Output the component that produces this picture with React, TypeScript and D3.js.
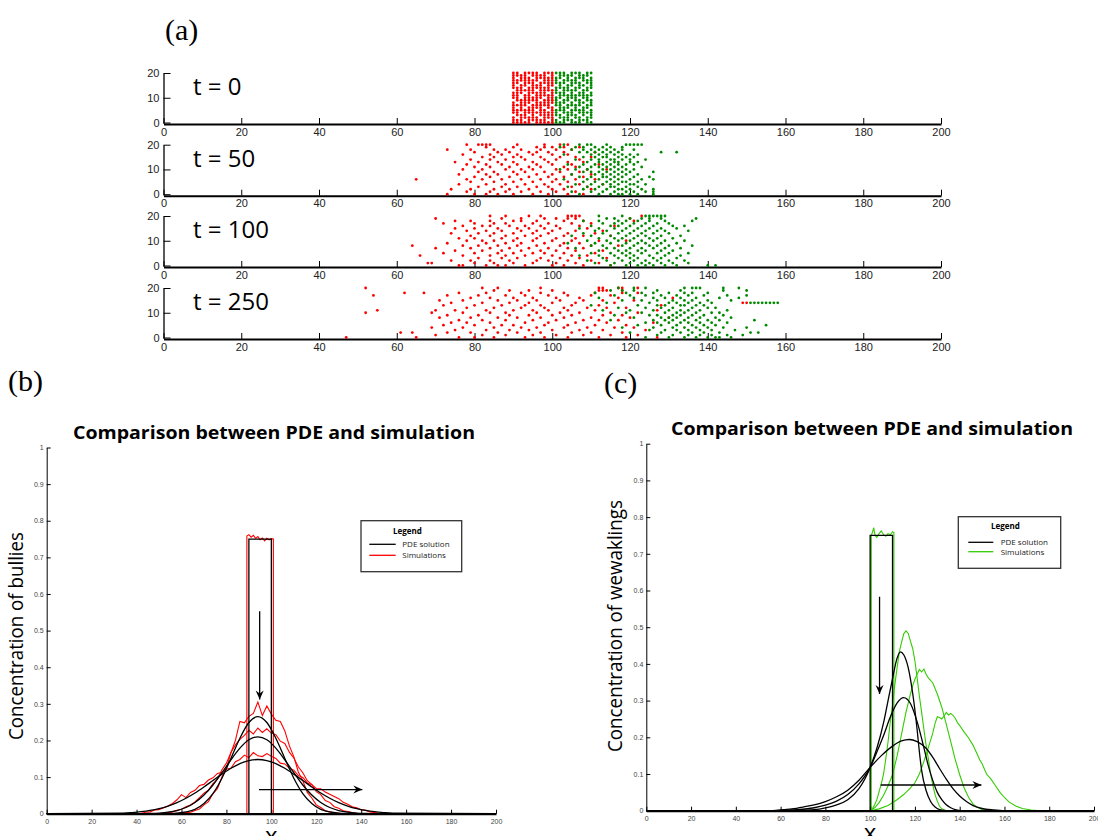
import { useEffect, useRef } from 'react'
import * as d3 from 'd3'

// ---------- shared ticks / labels ----------
const xTicks = [0, 20, 40, 60, 80, 100, 120, 140, 160, 180, 200]
const snapYTicks = [0, 10, 20]
const concTicks = [0, 0.1, 0.2, 0.3, 0.4, 0.5, 0.6, 0.7, 0.8, 0.9, 1]
const snapLabels = ['t = 0', 't = 50', 't = 100', 't = 250']
const panelTitle = 'Comparison between PDE and simulation'
const panelLetters = ['(a)', '(b)', '(c)']
const legendLabels = ['PDE solution', 'Simulations']

// ---------- (a) t = 0 lattice, one string per column, char index = y ----------
const t0RedStart = 90
const t0RedCols = [
  '111011111011101111111',
  '110111010111111011011',
  '111101111100111101110',
  '101111011111010111111',
  '111011101111111011101',
  '011111110110111111011',
  '111010111111101101111',
  '110111111011111110110',
  '111111011101111011111',
  '101110111111011111101',
  '111111101111110111111',
]
const t0GreenStart = 101
const t0GreenCols = [
  '110111011110111011101',
  '101101111011101110111',
  '111011101101111011011',
  '011110110111011101110',
  '110111011011110111011',
  '101101110111011011101',
  '111011011101101110111',
  '010111101011110101110',
  '111010110111011011011',
  '101111011101101111101',
]

// ---------- (a) later snapshots: rows indexed by y, values are x ----------
const t50RedRows = [
  [73, 80, 83, 86, 90, 95, 99, 104, 108],
  [78, 84, 88, 92, 97, 101, 106],
  [74, 79, 85, 89, 94, 100, 103, 110],
  [81, 87, 91, 96, 99, 105, 109],
  [76, 83, 88, 93, 98, 102, 107, 113],
  [79, 85, 90, 95, 100, 104],
  [65, 78, 82, 87, 92, 97, 101, 106, 111],
  [80, 84, 89, 94, 99, 103, 108],
  [76, 83, 86, 91, 96, 100, 105, 110],
  [81, 85, 90, 93, 98, 102, 107],
  [77, 82, 88, 92, 95, 101, 104, 109, 114],
  [80, 84, 89, 94, 97, 103, 106],
  [78, 83, 87, 91, 96, 100, 105, 112],
  [75, 81, 86, 90, 95, 99, 104, 108],
  [79, 84, 88, 93, 98, 101, 107],
  [82, 85, 90, 92, 97, 102, 106, 110],
  [77, 84, 87, 91, 95, 100, 104],
  [80, 86, 89, 94, 96, 99, 103, 111],
  [73, 79, 85, 88, 92, 97, 101, 105],
  [83, 90, 96, 98, 100, 103, 107],
  [78, 81, 82, 83, 84, 91, 98, 102, 104],
]
const t50GreenRows = [
  [107, 112, 115, 117, 118, 120, 122, 126],
  [105, 110, 113, 116, 119, 121, 124, 126],
  [108, 111, 114, 117, 118, 120, 123, 126],
  [104, 109, 112, 115, 116, 119, 122],
  [106, 110, 113, 115, 117, 120, 121, 124],
  [108, 111, 114, 116, 118, 119, 122],
  [103, 109, 112, 115, 117, 120, 123, 126],
  [107, 110, 113, 114, 116, 118, 121, 125],
  [105, 111, 113, 115, 117, 119, 122],
  [108, 110, 112, 114, 116, 118, 120, 126],
  [102, 106, 109, 113, 115, 117, 119, 121],
  [107, 110, 112, 114, 116, 118, 123],
  [104, 108, 111, 113, 115, 117, 119, 121],
  [109, 112, 114, 116, 117, 120, 122],
  [106, 110, 112, 115, 116, 118, 120, 124],
  [108, 111, 113, 114, 117, 119, 121],
  [103, 110, 112, 114, 116, 118, 120, 122],
  [107, 109, 111, 113, 115, 117, 128, 132],
  [105, 108, 110, 112, 114, 116, 118, 121],
  [102, 106, 108, 111, 113, 115, 118],
  [103, 107, 109, 110, 114, 119, 120, 121, 122, 123],
]
const t100RedRows = [
  [76, 77, 83, 86, 88, 93, 100, 103, 108, 115],
  [68, 69, 80, 85, 90, 95, 101, 106, 112],
  [74, 79, 84, 89, 96, 99, 104, 110],
  [81, 87, 91, 97, 102, 107, 114],
  [66, 77, 84, 88, 93, 100, 105, 109],
  [72, 80, 86, 90, 95, 98, 103, 111],
  [75, 82, 87, 92, 97, 101, 106, 113],
  [70, 79, 84, 89, 94, 99, 104, 108],
  [64, 77, 81, 86, 91, 96, 102, 110, 117],
  [73, 83, 88, 92, 98, 103, 107],
  [78, 82, 85, 90, 95, 100, 105, 112, 119],
  [76, 80, 87, 91, 96, 101, 106],
  [79, 84, 88, 93, 97, 103, 108, 115],
  [74, 81, 85, 90, 95, 99, 104, 111],
  [78, 83, 87, 92, 96, 100, 106, 113],
  [75, 80, 86, 91, 94, 98, 102, 109],
  [77, 82, 84, 89, 93, 97, 101, 107, 116],
  [72, 80, 85, 88, 95, 99, 105, 110],
  [75, 79, 84, 90, 92, 96, 103, 108, 121],
  [70, 87, 92, 98, 101, 104, 106, 120],
  [84, 88, 94, 97, 104, 105, 106, 107, 123],
]
const t100GreenRows = [
  [115, 119, 122, 124, 126, 129, 132, 140, 142],
  [111, 116, 120, 123, 125, 128, 131, 135],
  [109, 114, 118, 121, 124, 127, 130, 134],
  [113, 117, 120, 122, 126, 128, 132],
  [107, 112, 116, 119, 121, 125, 129, 133],
  [110, 115, 118, 120, 123, 127, 130, 135],
  [112, 117, 119, 122, 124, 128, 131],
  [106, 114, 116, 120, 123, 126, 129, 133],
  [110, 113, 118, 121, 125, 127, 130, 136],
  [104, 111, 115, 119, 122, 124, 128, 132],
  [109, 114, 117, 120, 123, 126, 129, 134],
  [112, 116, 118, 121, 125, 127, 131],
  [105, 110, 115, 119, 122, 124, 128, 133],
  [108, 113, 117, 120, 123, 126, 130],
  [111, 114, 118, 121, 124, 127, 129, 135],
  [107, 112, 116, 119, 122, 125, 128, 132],
  [110, 115, 117, 120, 123, 126, 131, 134],
  [113, 116, 118, 121, 124, 127, 130],
  [108, 112, 117, 119, 122, 125, 129, 136],
  [114, 116, 120, 123, 125, 128, 137],
  [112, 118, 124, 125, 126, 127, 128, 129],
]
const t250RedRows = [
  [47, 65, 76, 80, 85, 93, 98, 104, 112, 119, 127],
  [70, 82, 88, 95, 101, 108, 115, 122],
  [61, 64, 73, 79, 86, 91, 97, 105, 110, 118],
  [75, 83, 89, 94, 100, 107, 113, 124],
  [69, 77, 85, 92, 96, 103, 109, 116, 121],
  [72, 80, 87, 90, 98, 104, 111, 119],
  [74, 78, 84, 93, 99, 106, 114, 126],
  [76, 82, 88, 95, 101, 108, 112, 117],
  [71, 79, 86, 91, 97, 103, 110, 120, 130],
  [73, 81, 89, 94, 100, 105, 113, 118],
  [52, 69, 77, 84, 88, 96, 102, 107, 115, 122],
  [55, 70, 75, 83, 90, 95, 99, 104, 111, 127],
  [78, 85, 92, 98, 103, 109, 114, 119],
  [72, 80, 87, 93, 97, 105, 112, 128],
  [74, 82, 89, 94, 100, 106, 116, 149, 150],
  [71, 77, 86, 91, 96, 102, 108, 113, 121],
  [79, 84, 90, 95, 101, 107, 117, 131],
  [54, 73, 81, 88, 93, 99, 104, 110, 115],
  [62, 67, 76, 83, 92, 97, 103, 111, 118, 122],
  [85, 89, 94, 100, 112, 113, 114, 118],
  [52, 82, 86, 97, 112, 113, 117, 118, 122],
]
const t250GreenRows = [
  [124, 130, 134, 137, 140, 142, 143, 146],
  [127, 131, 135, 138, 141, 145, 149],
  [120, 128, 133, 136, 139, 143, 151, 153],
  [125, 129, 132, 135, 138, 141, 147],
  [118, 126, 131, 134, 137, 140, 144, 150],
  [122, 128, 132, 136, 139, 142, 155],
  [124, 127, 130, 133, 135, 138, 141, 145],
  [115, 126, 129, 131, 134, 137, 140, 143, 152],
  [121, 128, 130, 132, 135, 138, 142, 146],
  [116, 125, 127, 131, 133, 136, 139, 144],
  [119, 123, 129, 132, 134, 137, 141, 143],
  [113, 120, 126, 130, 133, 135, 138, 145],
  [117, 124, 128, 131, 136, 140, 142],
  [110, 122, 127, 129, 133, 134, 137, 139],
  [114, 125, 130, 132, 135, 138, 141, 151, 152, 153, 154, 155, 156, 157, 158],
  [118, 123, 127, 131, 134, 136, 140, 146],
  [112, 121, 126, 129, 133, 137, 143, 148],
  [116, 120, 124, 128, 132, 135, 139, 145, 150],
  [111, 119, 123, 126, 130, 134, 136, 140],
  [115, 118, 121, 127, 133, 144, 150],
  [117, 121, 124, 134, 136, 137, 138, 144, 148],
]

// ---------- (b) bullies ----------
const bPdeX = [34, 38, 42, 46, 50, 54, 58, 62, 66, 70, 74, 78, 82, 86, 90, 94, 98, 102, 106, 110, 114, 118, 122, 126, 130, 134, 138, 142, 146, 150, 154]
const bPdeT50 = [0, 0, 0, 0, 0.0001, 0.0005, 0.0016, 0.0048, 0.012, 0.028, 0.055, 0.097, 0.151, 0.206, 0.249, 0.265, 0.249, 0.206, 0.151, 0.097, 0.055, 0.028, 0.012, 0.0048, 0.0016, 0.0005, 0.0001, 0, 0, 0, 0]
const bPdeT100 = [0, 0.0001, 0.0003, 0.0007, 0.0018, 0.0041, 0.0086, 0.0169, 0.0305, 0.0509, 0.0784, 0.112, 0.147, 0.179, 0.202, 0.21, 0.202, 0.179, 0.147, 0.112, 0.0784, 0.0509, 0.0305, 0.0169, 0.0086, 0.0041, 0.0018, 0.0007, 0.0003, 0.0001, 0]
const bPdeT250 = [0.0018, 0.0032, 0.0054, 0.0088, 0.0138, 0.0209, 0.0302, 0.0422, 0.0566, 0.0731, 0.0907, 0.108, 0.124, 0.137, 0.145, 0.148, 0.145, 0.137, 0.124, 0.108, 0.0907, 0.0731, 0.0566, 0.0422, 0.0302, 0.0209, 0.0138, 0.0088, 0.0054, 0.0032, 0.0018]
const bPdeInit: [number, number][] = [[0, 0], [90, 0], [90, 0.75], [100, 0.75], [100, 0], [200, 0]]

const bSimX = [40, 42, 44, 46, 48, 50, 52, 54, 56, 58, 60, 62, 64, 66, 68, 70, 72, 74, 76, 78, 80, 82, 84, 86, 88, 90, 92, 94, 96, 98, 100, 102, 104, 106, 108, 110, 112, 114, 116, 118, 120, 122, 124, 126, 128, 130, 132, 134, 136, 138, 140, 142, 144, 146, 148, 150]
const bSimT50 = [0, 0, 0, 0, 0, 0, 0, 0, 0, 0.001, 0.001, 0.003, 0.004, 0.009, 0.013, 0.024, 0.033, 0.055, 0.068, 0.1, 0.124, 0.166, 0.2, 0.252, 0.248, 0.266, 0.274, 0.305, 0.268, 0.294, 0.272, 0.255, 0.252, 0.226, 0.186, 0.156, 0.114, 0.09, 0.058, 0.043, 0.024, 0.017, 0.008, 0.005, 0.002, 0.001, 0, 0, 0, 0, 0, 0, 0, 0, 0, 0]
const bSimT100 = [0, 0, 0, 0, 0, 0, 0.001, 0.003, 0.005, 0.009, 0.012, 0.019, 0.024, 0.032, 0.044, 0.056, 0.064, 0.082, 0.094, 0.12, 0.138, 0.167, 0.188, 0.203, 0.214, 0.228, 0.218, 0.234, 0.222, 0.232, 0.22, 0.216, 0.198, 0.192, 0.168, 0.152, 0.128, 0.112, 0.09, 0.08, 0.06, 0.052, 0.036, 0.031, 0.019, 0.015, 0.008, 0.006, 0.003, 0.001, 0, 0, 0, 0, 0, 0]
const bSimT250 = [0, 0.001, 0.004, 0.005, 0.01, 0.011, 0.016, 0.021, 0.028, 0.038, 0.052, 0.044, 0.058, 0.064, 0.077, 0.08, 0.092, 0.098, 0.11, 0.113, 0.122, 0.124, 0.142, 0.148, 0.16, 0.153, 0.167, 0.158, 0.156, 0.164, 0.157, 0.151, 0.138, 0.136, 0.124, 0.119, 0.104, 0.099, 0.084, 0.079, 0.069, 0.068, 0.059, 0.053, 0.047, 0.041, 0.031, 0.026, 0.019, 0.016, 0.011, 0.009, 0.005, 0.003, 0.001, 0]
const bSimInit: [number, number][] = [[0, 0], [89.1, 0], [89.1, 0.758], [90, 0.762], [91, 0.755], [92, 0.76], [93, 0.752], [94, 0.757], [95, 0.748], [96, 0.753], [97, 0.745], [98, 0.752], [99, 0.748], [100, 0.751], [100.9, 0.75], [100.9, 0], [200, 0]]
const bArrows: [number, number][][] = [
  [[94.8, 0.553], [94.8, 0.312]],
  [[94.5, 0.066], [140.5, 0.066]],
]

// ---------- (c) weaklings ----------
const cPdeInit: [number, number][] = [[0, 0], [100, 0], [100, 0.75], [110, 0.75], [110, 0], [200, 0]]
const cPdeT50: [number, number][] = [[0, 0], [62, 0], [65, 0.0005], [70, 0.0015], [75, 0.003], [80, 0.008], [85, 0.016], [90, 0.03], [95, 0.06], [100, 0.118], [103, 0.17], [106, 0.24], [108, 0.3], [110, 0.36], [112, 0.415], [113.5, 0.433], [115, 0.425], [117, 0.39], [119, 0.32], [121, 0.22], [122, 0.16], [123, 0.11], [125, 0.055], [127, 0.025], [129, 0.01], [131, 0.003], [134, 0], [200, 0]]
const cPdeT100: [number, number][] = [[0, 0], [58, 0], [60, 0.0005], [65, 0.002], [70, 0.004], [75, 0.008], [80, 0.015], [85, 0.026], [90, 0.044], [95, 0.073], [100, 0.118], [103, 0.16], [106, 0.205], [109, 0.255], [112, 0.293], [115, 0.308], [118, 0.292], [121, 0.242], [124, 0.172], [126, 0.122], [128, 0.082], [130, 0.05], [132, 0.03], [134, 0.016], [136, 0.008], [138, 0.003], [141, 0], [200, 0]]
const cPdeT250: [number, number][] = [[0, 0], [55, 0], [60, 0.002], [65, 0.005], [70, 0.01], [75, 0.016], [80, 0.025], [85, 0.038], [90, 0.056], [95, 0.083], [100, 0.118], [105, 0.15], [110, 0.176], [114, 0.19], [117.5, 0.194], [121, 0.188], [125, 0.17], [128, 0.145], [131, 0.115], [134, 0.086], [137, 0.06], [140, 0.04], [143, 0.025], [146, 0.014], [150, 0.006], [155, 0.002], [160, 0], [200, 0]]
const cSimInit: [number, number][] = [[0, 0], [100.5, 0], [100.5, 0.75], [101, 0.758], [101.6, 0.771], [102.2, 0.75], [103, 0.745], [104, 0.755], [105, 0.762], [106, 0.752], [107, 0.748], [108, 0.755], [109, 0.752], [110, 0.76], [110.6, 0.758], [110.6, 0], [200, 0]]
const cSimT50: [number, number][] = [[0, 0], [100, 0], [101, 0.005], [102, 0.016], [103, 0.03], [104, 0.052], [105, 0.074], [106, 0.1], [107, 0.142], [108, 0.188], [109, 0.243], [110, 0.288], [111, 0.342], [112, 0.388], [113, 0.432], [114, 0.458], [115, 0.482], [116, 0.49], [117, 0.483], [118, 0.462], [119, 0.442], [120, 0.408], [121, 0.362], [122, 0.312], [123, 0.268], [124, 0.222], [125, 0.178], [126, 0.142], [127, 0.1], [128, 0.07], [129, 0.044], [130, 0.026], [131, 0.012], [132, 0.005], [134, 0], [200, 0]]
const cSimT100: [number, number][] = [[0, 0], [100, 0], [102, 0.008], [104, 0.022], [106, 0.042], [108, 0.068], [110, 0.098], [112, 0.148], [114, 0.208], [116, 0.268], [118, 0.318], [119, 0.34], [120, 0.358], [121, 0.372], [122, 0.385], [123, 0.378], [124, 0.386], [125, 0.372], [126, 0.362], [128, 0.348], [130, 0.318], [132, 0.282], [134, 0.236], [136, 0.188], [138, 0.14], [140, 0.098], [142, 0.062], [144, 0.036], [146, 0.018], [148, 0.009], [150, 0.003], [153, 0], [200, 0]]
const cSimT250: [number, number][] = [[0, 0], [100, 0], [104, 0.005], [108, 0.014], [112, 0.03], [115, 0.044], [118, 0.062], [120, 0.076], [122, 0.1], [124, 0.134], [126, 0.172], [128, 0.212], [129, 0.238], [130, 0.256], [131, 0.254], [132, 0.25], [133, 0.258], [134, 0.268], [135, 0.261], [136, 0.265], [137, 0.26], [138, 0.252], [139, 0.24], [140, 0.232], [142, 0.214], [144, 0.198], [146, 0.178], [148, 0.152], [149, 0.138], [150, 0.128], [152, 0.1], [154, 0.086], [156, 0.068], [158, 0.05], [160, 0.036], [162, 0.024], [165, 0.013], [168, 0.006], [172, 0.002], [176, 0], [200, 0]]
const cArrows: [number, number][][] = [
  [[104.2, 0.583], [104.2, 0.318]],
  [[104.7, 0.07], [149.7, 0.07]],
]

const RED = '#ff0000'
const DOT_GREEN = '#008a00'
const LINE_GREEN = '#33cc00'
const TICK_FONT = 'Liberation Sans, Arial, sans-serif'
const LABEL_FONT = 'Open Sans, sans-serif'

function latticePoints(cols: string[], x0: number): [number, number][] {
  const pts: [number, number][] = []
  cols.forEach((col, i) => {
    col.split('').forEach((c, y) => {
      if (c === '1') pts.push([x0 + i, y])
    })
  })
  return pts
}

function rowPoints(rows: number[][]): [number, number][] {
  return rows.flatMap((xs, y) => xs.map((x) => [x, y] as [number, number]))
}

// pad a sampled curve with the zero level over the whole domain
function zip(xs: number[], ys: number[]): [number, number][] {
  return [[0, 0], ...xs.map((x, i) => [x, ys[i]] as [number, number]), [200, 0]]
}

function styleAxis(g: any, size: number, color: string, domainWidth: number) {
  g.attr('font-family', TICK_FONT).attr('font-size', size)
  g.select('.domain').attr('stroke', '#000').attr('stroke-width', domainWidth)
  g.selectAll('.tick line').attr('stroke', '#000').attr('stroke-width', 1)
  g.selectAll('.tick text').attr('fill', color)
}

function drawArrow(g: any, x1: number, y1: number, x2: number, y2: number) {
  g.append('line')
    .attr('x1', x1).attr('y1', y1).attr('x2', x2).attr('y2', y2)
    .attr('stroke', '#000').attr('stroke-width', 1.3)
  const ang = Math.atan2(y2 - y1, x2 - x1)
  const len = 9
  const half = 4
  const notch = 3
  const ux = Math.cos(ang)
  const uy = Math.sin(ang)
  const px = -uy
  const py = ux
  const bx = x2 - ux * len
  const by = y2 - uy * len
  const pts = [
    [x2, y2],
    [bx + px * half, by + py * half],
    [x2 - ux * (len - notch), y2 - uy * (len - notch)],
    [bx - px * half, by - py * half],
  ]
  g.append('path').attr('d', 'M' + pts.map((p) => p.join(',')).join('L') + 'Z').attr('fill', '#000')
}

function Figure() {
  const ref = useRef<SVGSVGElement>(null)

  useEffect(() => {
    const node = ref.current
    if (!node) return
    const svg = d3.select(node)
    svg.selectAll('*').remove()
    svg.append('rect').attr('width', 1098).attr('height', 836).attr('fill', '#fff')

    // panel letters
    const letterPos = [[165, 40], [8, 391], [604, 393]]
    panelLetters.forEach((t, i) => {
      svg.append('text')
        .attr('x', letterPos[i][0]).attr('y', letterPos[i][1])
        .attr('font-family', 'Liberation Serif, DejaVu Serif, serif')
        .attr('font-size', 30).attr('fill', '#000')
        .text(t)
    })

    // ---------- (a) snapshots ----------
    const xA = d3.scaleLinear().domain([0, 200]).range([163.5, 941])
    const bottoms = [124, 195.7, 267, 339]
    const snaps = [
      { red: latticePoints(t0RedCols, t0RedStart), green: latticePoints(t0GreenCols, t0GreenStart) },
      { red: rowPoints(t50RedRows), green: rowPoints(t50GreenRows) },
      { red: rowPoints(t100RedRows), green: rowPoints(t100GreenRows) },
      { red: rowPoints(t250RedRows), green: rowPoints(t250GreenRows) },
    ]
    snaps.forEach((s, i) => {
      const bottom = bottoms[i]
      const y = d3.scaleLinear().domain([0, 20]).range([bottom - 1.5, bottom - 51])
      const g = svg.append('g')
      g.append('g')
        .attr('transform', `translate(0,${bottom})`)
        .call(d3.axisBottom(xA).tickValues(xTicks).tickSizeInner(-6).tickSizeOuter(0).tickPadding(4))
        .call((a: any) => styleAxis(a, 11, '#222', 2))
      g.append('g')
        .attr('transform', `translate(${xA(0)},0)`)
        .call(d3.axisLeft(y).tickValues(snapYTicks).tickSizeInner(-7).tickSizeOuter(0).tickPadding(4))
        .call((a: any) => styleAxis(a, 11, '#222', 1.3))

      g.append('text')
        .attr('x', 193).attr('y', bottom - 29)
        .attr('font-family', LABEL_FONT).attr('font-size', 24).attr('fill', '#000')
        .text(snapLabels[i])

      g.selectAll('circle.red')
        .data(s.red)
        .enter()
        .append('circle')
        .attr('r', 1.4)
        .attr('cx', (d) => xA(d[0]))
        .attr('cy', (d) => y(d[1]))
        .attr('fill', RED)
      g.selectAll('circle.green')
        .data(s.green)
        .enter()
        .append('circle')
        .attr('r', 1.4)
        .attr('cx', (d) => xA(d[0]))
        .attr('cy', (d) => y(d[1]))
        .attr('fill', DOT_GREEN)
    })

    // ---------- (b) and (c) ----------
    const panels = [
      {
        x: d3.scaleLinear().domain([0, 200]).range([46.7, 496]),
        y: d3.scaleLinear().domain([0, 1]).range([813.7, 447.5]),
        titleX: 274, titleY: 439,
        yLabel: 'Concentration of bullies', yLabelX: 23, yLabelY: 636, yLabelLen: 208,
        xLabelY: 844,
        simColor: RED,
        sims: [bSimInit, zip(bSimX, bSimT50), zip(bSimX, bSimT100), zip(bSimX, bSimT250)],
        pdes: [zip(bPdeX, bPdeT50), zip(bPdeX, bPdeT100), zip(bPdeX, bPdeT250)],
        pdeInit: bPdeInit,
        arrows: bArrows,
        legend: [361, 520.7, 100.7, 51],
        legendRows: [544.3, 555.3],
        legendLine: [369.3, 395.7],
        legendTextX: 402.3,
        legendTitleY: 533.5,
      },
      {
        x: d3.scaleLinear().domain([0, 200]).range([646.3, 1094]),
        y: d3.scaleLinear().domain([0, 1]).range([810.7, 443.7]),
        titleX: 872, titleY: 435,
        yLabel: 'Concentration of wewaklings', yLabelX: 622, yLabelY: 626, yLabelLen: 252,
        xLabelY: 841,
        simColor: LINE_GREEN,
        sims: [cSimInit, cSimT50, cSimT100, cSimT250],
        pdes: [cPdeT50, cPdeT100, cPdeT250],
        pdeInit: cPdeInit,
        arrows: cArrows,
        legend: [958.3, 516.7, 102.4, 51.6],
        legendRows: [542.3, 551.7],
        legendLine: [968.3, 993.3],
        legendTextX: 1000.7,
        legendTitleY: 529,
      },
    ]

    panels.forEach((p) => {
      const g = svg.append('g')
      const linear = d3.line<[number, number]>().x((d) => p.x(d[0])).y((d) => p.y(d[1]))
      const smooth = d3.line<[number, number]>().x((d) => p.x(d[0])).y((d) => p.y(d[1])).curve(d3.curveMonotoneX)

      g.append('text')
        .attr('x', p.titleX).attr('y', p.titleY)
        .attr('text-anchor', 'middle')
        .attr('font-family', LABEL_FONT).attr('font-weight', 'bold').attr('font-size', 18)
        .attr('textLength', 402).attr('lengthAdjust', 'spacingAndGlyphs')
        .text(panelTitle)

      g.append('text')
        .attr('transform', `translate(${p.yLabelX},${p.yLabelY}) rotate(-90)`)
        .attr('text-anchor', 'middle')
        .attr('font-family', LABEL_FONT).attr('font-size', 20)
        .attr('textLength', p.yLabelLen).attr('lengthAdjust', 'spacingAndGlyphs')
        .text(p.yLabel)

      g.append('text')
        .attr('x', p.x(100)).attr('y', p.xLabelY)
        .attr('text-anchor', 'middle')
        .attr('font-family', LABEL_FONT).attr('font-size', 24)
        .text('x')

      // simulations
      p.sims.forEach((s) => {
        g.append('path').datum(s).attr('d', linear).attr('fill', 'none').attr('stroke', p.simColor).attr('stroke-width', 1.1)
      })
      // PDE
      g.append('path').datum(p.pdeInit).attr('d', linear).attr('fill', 'none').attr('stroke', '#000').attr('stroke-width', 1.3)
      p.pdes.forEach((s) => {
        g.append('path').datum(s).attr('d', smooth).attr('fill', 'none').attr('stroke', '#000').attr('stroke-width', 1.3)
      })

      g.append('g')
        .attr('transform', `translate(0,${p.y(0)})`)
        .call(d3.axisBottom(p.x).tickValues(xTicks).tickSizeInner(-4).tickSizeOuter(0).tickPadding(5))
        .call((a: any) => styleAxis(a, 7, '#444', 2.2))
      g.append('g')
        .attr('transform', `translate(${p.x(0)},0)`)
        .call(d3.axisLeft(p.y).tickValues(concTicks).tickFormat(d3.format('')).tickSizeInner(-4).tickSizeOuter(0).tickPadding(3))
        .call((a: any) => styleAxis(a, 7, '#444', 1))

      p.arrows.forEach((a) => {
        drawArrow(g, p.x(a[0][0]), p.y(a[0][1]), p.x(a[1][0]), p.y(a[1][1]))
      })

      // legend
      const [lx, ly, lw, lh] = p.legend
      g.append('rect').attr('x', lx).attr('y', ly).attr('width', lw).attr('height', lh)
        .attr('fill', '#fff').attr('stroke', '#333').attr('stroke-width', 1.3)
      g.append('text')
        .attr('x', lx + lw / 2 - 4).attr('y', p.legendTitleY)
        .attr('text-anchor', 'middle')
        .attr('font-family', LABEL_FONT).attr('font-weight', 'bold').attr('font-size', 8)
        .text('Legend')
      legendLabels.forEach((t, i) => {
        const yy = p.legendRows[i]
        g.append('line')
          .attr('x1', p.legendLine[0]).attr('x2', p.legendLine[1]).attr('y1', yy).attr('y2', yy)
          .attr('stroke', i === 0 ? '#000' : p.simColor).attr('stroke-width', 1.3)
        g.append('text')
          .attr('x', p.legendTextX).attr('y', yy + 3)
          .attr('font-family', LABEL_FONT).attr('font-size', 8).attr('fill', '#222')
          .text(t)
      })
    })
  }, [])

  return (
    <svg
      ref={ref}
      width={1098}
      height={836}
      style={{ position: 'absolute', left: 0, top: 0, display: 'block' }}
    />
  )
}

export default function App() {
  return <Figure />
}
